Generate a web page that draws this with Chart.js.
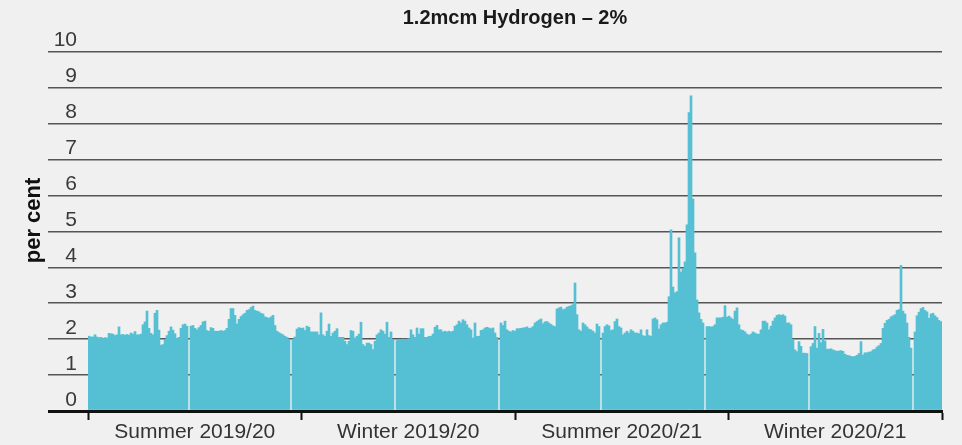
<!DOCTYPE html>
<html><head><meta charset="utf-8">
<script src="https://cdn.jsdelivr.net/npm/chart.js@4"></script>
<style>html,body{margin:0;padding:0;background:#f0f0f0;overflow:hidden}canvas{display:block}</style>
</head><body>
<canvas id="c" width="962" height="445"></canvas>
<script>
const chartTitle = '1.2mcm Hydrogen – 2%';
const yAxisTitle = 'per cent';
const seasons = ['Summer 2019/20', 'Winter 2019/20', 'Summer 2020/21', 'Winter 2020/21'];
const yTicks = [0, 1, 2, 3, 4, 5, 6, 7, 8, 9, 10];

const summer1920 = [2.08,2.06,2.06,2.12,2.06,2.04,2.05,2.02,2.04,2.03,
 2.16,2.15,2.14,2.10,2.12,2.34,2.12,2.13,2.11,2.13,
 2.11,2.17,2.14,2.21,2.12,2.12,2.14,2.40,2.48,2.78,
 2.30,2.16,2.12,2.72,2.80,2.25,1.83,1.85,1.97,2.10,
 2.22,2.34,2.25,2.15,2.02,2.05,2.30,2.40,2.42,2.36,
 null,2.36,2.38,2.30,2.26,2.32,2.38,2.48,2.50,2.24,
 2.22,2.32,2.30,2.22,2.22,2.22,2.24,2.22,2.24,2.30,
 2.55,2.85,2.85,2.66,2.42,2.55,2.63,2.68,2.72,2.80,
 2.82,2.88,2.92,2.80,2.78,2.76,2.72,2.70,2.62,2.60,
 2.58,2.62,2.66,2.38,2.22,2.18,2.15,2.12,2.08,2.05,
 2.00,null,2.00,2.06,2.28,2.32,2.30];

const winter1920 = [2.31,2.24,2.36,2.33,2.20,2.20,2.20,2.20,2.12,2.73,
 2.12,2.08,2.22,2.42,2.08,2.17,2.22,2.29,2.05,2.05,
 2.05,1.94,1.85,1.94,2.24,2.22,2.03,2.08,2.14,2.47,
 1.85,1.80,1.89,1.89,1.85,1.71,1.94,2.12,2.17,2.26,
 2.22,2.14,2.47,2.05,2.20,1.99,null,1.96,1.99,1.99,
 2.00,1.99,2.00,2.01,2.26,2.12,2.05,2.31,2.14,2.29,
 2.29,2.05,2.05,2.08,2.08,2.14,2.33,2.38,2.26,2.26,
 2.20,2.22,2.20,2.22,2.20,2.22,2.36,2.40,2.50,2.45,
 2.54,2.50,2.40,2.31,2.26,2.03,2.45,2.08,2.08,2.24,
 2.26,2.31,2.33,2.31,2.29,2.31,2.17,2.05,null,2.45,
 2.38,2.50,2.26,2.22,2.20,2.24,2.22];

const summer2021 = [2.29,2.29,2.30,2.31,2.32,2.34,2.30,2.31,2.35,2.45,
 2.49,2.53,2.56,2.43,2.48,2.49,2.45,2.41,2.37,2.35,
 2.84,2.87,2.89,2.82,2.84,2.89,2.91,2.93,2.96,3.56,
 2.68,2.26,2.22,2.45,2.40,2.34,2.28,2.26,2.22,2.17,
 2.42,2.35,null,2.17,2.35,2.40,2.37,2.24,2.26,2.49,
 2.56,2.35,2.31,2.12,2.17,2.22,2.17,2.26,2.22,2.17,
 2.17,2.15,2.26,2.10,2.08,2.26,2.10,2.08,2.56,2.59,
 2.54,2.28,2.40,2.45,2.45,2.47,3.18,5.04,3.45,3.29,
 3.32,4.82,3.87,3.95,4.15,5.18,8.30,8.77,5.90,4.40,
 3.09,2.73,2.55,2.45,null,2.35,2.35,2.34,2.35,2.40,
 2.59,2.59,2.59,2.61,2.93,2.61];

const winter2021 = [2.64,2.59,2.55,2.78,2.87,2.40,2.26,2.24,2.20,2.14,
 2.11,2.14,2.20,2.17,2.14,2.14,2.26,2.50,2.50,2.45,
 2.26,2.36,2.50,2.59,2.66,2.68,2.66,2.68,2.64,2.45,
 2.45,2.40,1.98,1.70,1.65,1.93,1.80,1.61,1.61,1.60,
 null,1.79,1.88,2.35,1.75,2.16,1.90,2.27,1.95,1.72,
 1.72,1.73,1.70,1.68,1.66,1.67,1.68,1.66,1.58,1.55,
 1.54,1.52,1.51,1.52,1.55,1.60,1.93,1.56,1.62,1.62,
 1.64,1.65,1.70,1.72,1.78,1.82,1.88,2.30,2.44,2.52,
 2.55,2.62,2.65,2.68,2.80,2.82,4.05,2.78,2.70,2.45,
 2.05,1.75,null,2.20,2.65,2.75,2.85,2.88,2.80,2.76,
 2.58,2.70,2.72,2.65,2.60,2.52,2.49];

const values = [].concat(summer1920, winter1920, summer2021, winter2021);
const labels = values.map((_, i) => String(i));
const FONT = '"Liberation Sans", Arial, Helvetica, sans-serif';

new Chart(document.getElementById('c'), {
  type: 'bar',
  data: {
    labels: labels,
    datasets: [{
      data: values,
      backgroundColor: '#55c0d3',
      borderWidth: 0,
      barPercentage: 1,
      categoryPercentage: 1,
      xAxisID: 'x',
      yAxisID: 'y'
    }]
  },
  options: {
    responsive: false,
    animation: false,
    layout: { padding: { left: 0, right: 20, top: 0, bottom: 0 } },
    plugins: {
      legend: { display: false },
      tooltip: { enabled: false },
      title: {
        display: true, text: chartTitle, fullSize: false,
        font: { family: FONT, size: 20, weight: 'bold' }, color: '#1a1a1a',
        padding: { top: 6, bottom: 0 }
      }
    },
    scales: {
      x: { type: 'category', display: false, offset: true },
      xs: {
        type: 'linear', position: 'bottom', min: 0, max: seasons.length, z: 1,
        offset: false,
        afterBuildTicks: s => { const t = []; for (let k = 0; k <= seasons.length * 2; k++) t.push({ value: k / 2 }); s.ticks = t; },
        afterFit: s => { s.height = 34; },
        ticks: {
          autoSkip: false, maxRotation: 0, minRotation: 0, padding: 0,
          font: { family: FONT, size: 21 }, color: '#333',
          callback: v => (v % 1 === 0.5 ? seasons[Math.floor(v)] : '')
        },
        grid: {
          offset: false, drawOnChartArea: false, tickLength: 9, tickWidth: 2,
          tickColor: c => (c.tick && c.tick.value % 1 === 0 ? '#111' : 'rgba(0,0,0,0)')
        },
        border: { display: true, color: '#111', width: 3 }
      },
      y: {
        position: 'left', min: 0, max: 10.6,
        afterBuildTicks: s => { s.ticks = yTicks.map(v => ({ value: v })); },
        afterFit: s => { s.width = 88; },
        ticks: {
          padding: -29, labelOffset: -11,
          font: { family: FONT, size: 21 }, color: '#3a3a3a',
          callback: v => String(v)
        },
        grid: {
          color: c => (c.tick && c.tick.value === 0 ? '#111' : '#555'),
          lineWidth: c => (c.tick && c.tick.value === 0 ? 3 : 1.4),
          tickColor: c => (c.tick && c.tick.value === 0 ? '#111' : '#555'),
          tickWidth: c => (c.tick && c.tick.value === 0 ? 3 : 1.4),
          tickLength: 40
        },
        border: { display: false },
        title: {
          display: true, text: yAxisTitle,
          font: { family: FONT, size: 22, weight: 'bold' }, color: '#111',
          padding: { top: 21, bottom: 0 }
        }
      }
    }
  }
});
</script>
</body></html>
